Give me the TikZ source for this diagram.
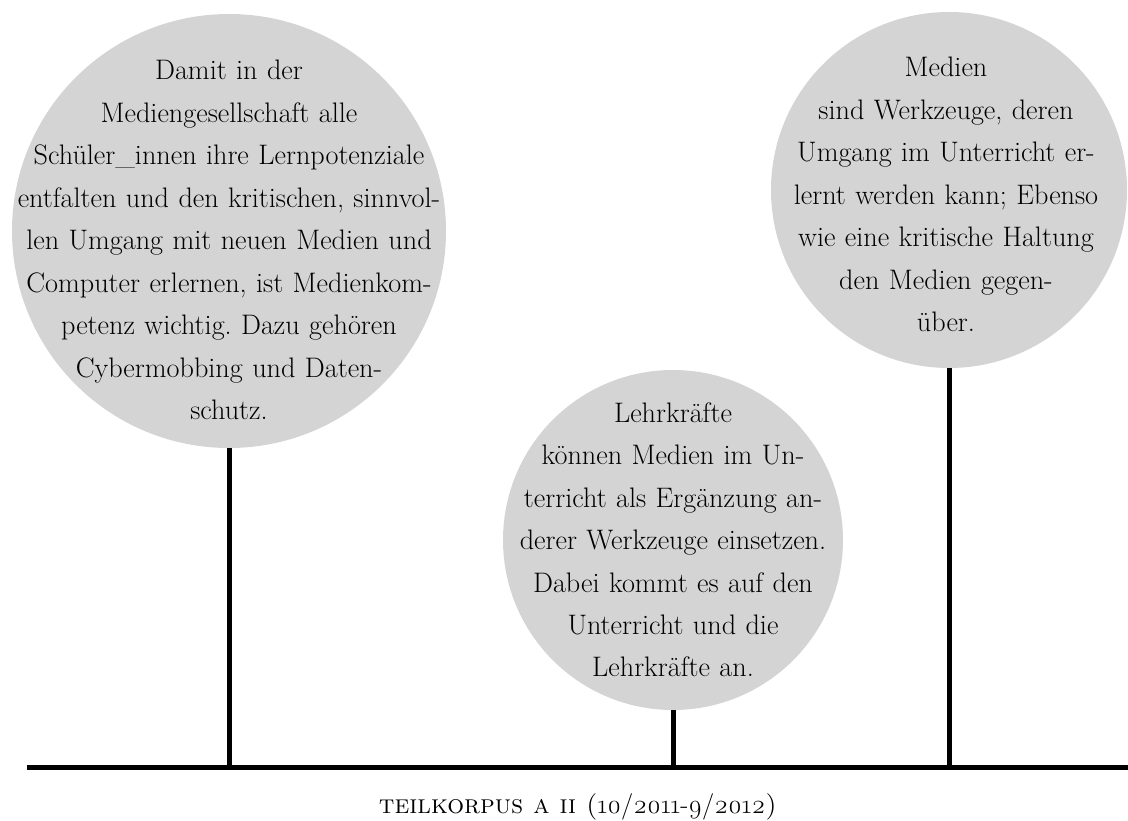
\documentclass[tikz,border=0pt]{standalone}
\usepackage{fontspec}
\newfontfamily\osffont{Latin Modern Roman}[Numbers=OldStyle]
\frenchspacing
\begin{document}
\begin{tikzpicture}[x=1pt,y=-1pt,
  bubble/.style={circle,fill=black!17,draw=none,inner sep=0pt},
  bubbletext/.style={text width=560pt,align=center,anchor=base,inner sep=0pt,
    font=\fontsize{28.2}{42.5}\selectfont},
  stem/.style={line width=5pt},
  captiontext/.style={anchor=base,inner sep=0pt,font=\fontsize{26.5}{30}\selectfont}]
\useasboundingbox (0,0) rectangle (1128,821);
% baseline
\coordinate (bl) at (27,767);
\coordinate (br) at (1128,767);
% circles
\node[bubble,minimum size=434pt] (c1) at (229,231) {};
\node[bubble,minimum size=340pt] (c2) at (673,540) {};
\node[bubble,minimum size=356pt] (c3) at (949,190) {};
% texts
\node[bubbletext] (t1) at (229,80) {Damit in der\\
Mediengesellschaft alle\\
Schüler\_innen ihre Lernpotenziale\\
entfalten und den kritischen, sinnvol-\\
len Umgang mit neuen Medien und\\
Computer erlernen, ist Medienkom-\\
petenz wichtig. Dazu gehören\\
Cybermobbing und Daten-\\
schutz.};
\node[bubbletext] (t2) at (673,422) {Lehrkräfte\\
können Medien im Un-\\
terricht als Ergänzung an-\\
derer Werkzeuge einsetzen.\\
Dabei kommt es auf den\\
Unterricht und die\\
Lehrkräfte an.};
\node[bubbletext] (t3) at (946,77) {Medien\\
sind Werkzeuge, deren\\
Umgang im Unterricht er-\\
lernt werden kann; Ebenso\\
wie eine kritische Haltung\\
den Medien gegen-\\
über.};
% stems
\draw[stem] (c1.south) -- (c1.south |- bl);
\draw[stem] (c2.south) -- (c2.south |- bl);
\draw[stem] (c3.south) -- (c3.south |- bl);
\draw[stem] (bl) -- (br);
% caption
\node[captiontext] (cap) at (578,813) {\textsc{teilkorpus a ii (}{\osffont 10/2011-9/2012}\textsc{)}};
\end{tikzpicture}
\end{document}
